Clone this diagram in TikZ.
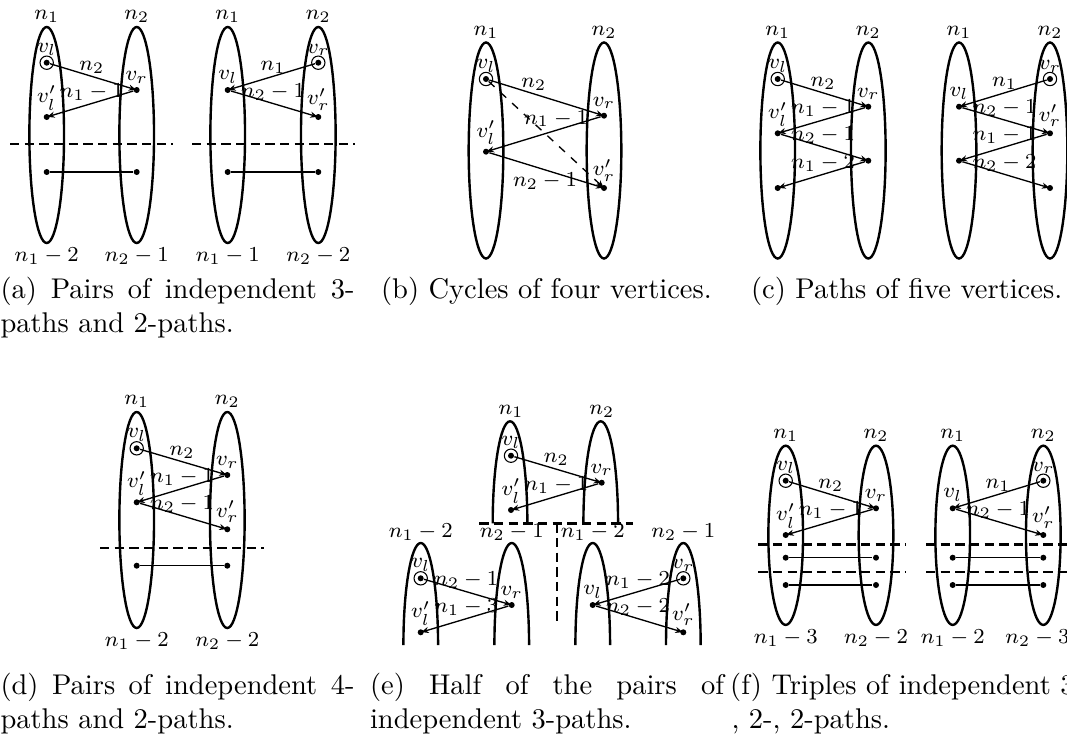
\documentclass[tikz,border=0pt]{standalone}
\usetikzlibrary{shapes.geometric,arrows.meta}

\begin{document}
\begin{tikzpicture}[x=0.375pt, y=-0.375pt,
    part/.style={draw, ellipse, line width=0.9pt, inner sep=0pt, minimum width=13pt, minimum height=81pt},
    shortpart/.style={part, minimum height=67.2pt},
    lbl/.style={font=\footnotesize, inner sep=1pt},
    vtx/.style={circle, fill, inner sep=0pt, minimum size=2.25pt},
    walk/.style={-{Stealth[length=2.8pt, width=2.3pt]}, line width=0.5pt, shorten >=-1.1pt},
    pathtwo/.style={line width=0.5pt},
    sepline/.style={line width=0.9pt, dash pattern=on 3.5pt off 2pt},
    captext/.style={inner sep=0pt, font=\fontsize{10.69}{12.8}\selectfont}]
\useasboundingbox (0,0) rectangle (1067,736);

% (a) pairs of independent 3-paths and 2-paths
\node[part, label={[lbl]above:$n_1$}, label={[lbl]below:$n_1-2$}] (a1) at (46.7,135) {};
\node[part, label={[lbl]above:$n_2$}, label={[lbl]below:$n_2-1$}] (a2) at (136.7,135) {};
\node[vtx, label={[lbl]above:$v_l$}] (a1vl) at (46.7,62.7) {};
\node[vtx, label={[lbl]above:$v_r$}] (a1vr) at (136.7,90) {};
\node[vtx, label={[lbl]above:$v_l'$}] (a1vlp) at (46.7,117) {};
\node[vtx] (a1x) at (46.7,172) {};
\node[vtx] (a1y) at (136.7,172) {};
\draw (a1vl) circle (2.5pt);
\draw[walk] (a1vl) -- (a1vr) node[lbl, midway, above] (a1e1) {$n_2$};
\draw[walk] (a1vr) -- (a1vlp) node[lbl, midway, above] (a1e2) {$n_1-1$};
\draw[pathtwo] (a1x) -- (a1y);
\draw[sepline] (10,144) -- (173,144);

\node[part, label={[lbl]above:$n_1$}, label={[lbl]below:$n_1-1$}] (a3) at (227.7,135) {};
\node[part, label={[lbl]above:$n_2$}, label={[lbl]below:$n_2-2$}] (a4) at (318.3,135) {};
\node[vtx, label={[lbl]above:$v_r$}] (a2vr) at (318.3,62.7) {};
\node[vtx, label={[lbl]above:$v_l$}] (a2vl) at (227.7,90) {};
\node[vtx, label={[lbl]above:$v_r'$}] (a2vrp) at (318.3,117) {};
\node[vtx] (a2x) at (227.7,172) {};
\node[vtx] (a2y) at (318.3,172) {};
\draw (a2vr) circle (2.5pt);
\draw[walk] (a2vr) -- (a2vl) node[lbl, midway, above] (a2e1) {$n_1$};
\draw[walk] (a2vl) -- (a2vrp) node[lbl, midway, above] (a2e2) {$n_2-1$};
\draw[pathtwo] (a2x) -- (a2y);
\draw[sepline] (192,144) -- (355,144);

% (b) cycles of four vertices
\node[part, label={[lbl]above:$n_1$}] (b1) at (486,150.5) {};
\node[part, label={[lbl]above:$n_2$}] (b2) at (604,150.5) {};
\node[vtx, label={[lbl]above:$v_l$}] (bvl) at (486,79) {};
\node[vtx, label={[lbl]above:$v_r$}] (bvr) at (604,115.7) {};
\node[vtx, label={[lbl]above:$v_l'$}] (bvlp) at (486,151.7) {};
\node[vtx, label={[lbl]above:$v_r'$}] (bvrp) at (604,188) {};
\draw (bvl) circle (2.5pt);
\draw[walk] (bvl) -- (bvr) node[lbl, pos=0.4, above] (be1) {$n_2$};
\draw[walk] (bvr) -- (bvlp) node[lbl, pos=0.4, above] (be2) {$n_1-1$};
\draw[walk] (bvlp) -- (bvrp) node[lbl, midway, below] (be3) {$n_2-1$};
\draw[walk, dashed] (bvl) -- (bvrp);

% (c) paths of five vertices
\node[part, label={[lbl]above:$n_1$}] (c1) at (777.7,150.5) {};
\node[part, label={[lbl]above:$n_2$}] (c2) at (868.3,150.5) {};
\node[vtx, label={[lbl]above:$v_l$}] (c1vl) at (777.7,79) {};
\node[vtx, label={[lbl]above:$v_r$}] (c1vr) at (868.3,106.7) {};
\node[vtx, label={[lbl]above:$v_l'$}] (c1vlp) at (777.7,133.3) {};
\node[vtx] (c1p) at (868.3,160.7) {};
\node[vtx] (c1q) at (777.7,188) {};
\draw (c1vl) circle (2.5pt);
\draw[walk] (c1vl) -- (c1vr) node[lbl, midway, above] (c1e1) {$n_2$};
\draw[walk] (c1vr) -- (c1vlp) node[lbl, midway, above] (c1e2) {$n_1-1$};
\draw[walk] (c1vlp) -- (c1p) node[lbl, midway, above] (c1e3) {$n_2-1$};
\draw[walk] (c1p) -- (c1q) node[lbl, midway, above] (c1e4) {$n_1-2$};

\node[part, label={[lbl]above:$n_1$}] (c3) at (959,150.5) {};
\node[part, label={[lbl]above:$n_2$}] (c4) at (1050,150.5) {};
\node[vtx, label={[lbl]above:$v_r$}] (c2vr) at (1050,79) {};
\node[vtx, label={[lbl]above:$v_l$}] (c2vl) at (959,106.7) {};
\node[vtx, label={[lbl]above:$v_r'$}] (c2vrp) at (1050,133.3) {};
\node[vtx] (c2p) at (959,160.7) {};
\node[vtx] (c2q) at (1050,188) {};
\draw (c2vr) circle (2.5pt);
\draw[walk] (c2vr) -- (c2vl) node[lbl, midway, above] (c2e1) {$n_1$};
\draw[walk] (c2vl) -- (c2vrp) node[lbl, midway, above] (c2e2) {$n_2-1$};
\draw[walk] (c2vrp) -- (c2p) node[lbl, midway, above] (c2e3) {$n_1-1$};
\draw[walk] (c2p) -- (c2q) node[lbl, midway, above] (c2e4) {$n_2-2$};

% (d) pairs of independent 4-paths and 2-paths
\node[part, label={[lbl]above:$n_1$}, label={[lbl]below:$n_1-2$}] (d1) at (136.7,520) {};
\node[part, label={[lbl]above:$n_2$}, label={[lbl]below:$n_2-2$}] (d2) at (227.3,520) {};
\node[vtx, label={[lbl]above:$v_l$}] (dvl) at (136.7,448.3) {};
\node[vtx, label={[lbl]above:$v_r$}] (dvr) at (227.3,475) {};
\node[vtx, label={[lbl]above:$v_l'$}] (dvlp) at (136.7,502.3) {};
\node[vtx, label={[lbl]above:$v_r'$}] (dvrp) at (227.3,529.3) {};
\node[vtx] (dx) at (136.7,565.7) {};
\node[vtx] (dy) at (227.3,565.7) {};
\draw (dvl) circle (2.5pt);
\draw[walk] (dvl) -- (dvr) node[lbl, midway, above] (de1) {$n_2$};
\draw[walk] (dvr) -- (dvlp) node[lbl, midway, above] (de2) {$n_1-1$};
\draw[walk] (dvlp) -- (dvrp) node[lbl, midway, above] (de3) {$n_2-1$};
\draw[pathtwo] (dx) -- (dy);
\draw[sepline] (100,547.7) -- (264,547.7);

% (e) half of the pairs of independent 3-paths
\draw[line width=0.9pt] (492.7,523.3) arc[start angle=180, end angle=0, x radius=6.5pt, y radius=38.25pt];
\draw[line width=0.9pt] (583.4,523.3) arc[start angle=180, end angle=0, x radius=6.5pt, y radius=38.25pt];
\node[lbl, above] (e1) at (511,421) {$n_1$};
\node[lbl, above] (e2) at (601.7,421) {$n_2$};
\node[vtx, label={[lbl]above:$v_l$}] (e1vl) at (511,455.7) {};
\node[vtx, label={[lbl]above:$v_r$}] (e1vr) at (601.7,482.7) {};
\node[vtx, label={[lbl]above:$v_l'$}] (e1vlp) at (511,510) {};
\draw (e1vl) circle (2.5pt);
\draw[walk] (e1vl) -- (e1vr) node[lbl, midway, above] (e1e1) {$n_2$};
\draw[walk] (e1vr) -- (e1vlp) node[lbl, midway, above] (e1e2) {$n_1-1$};

\draw[line width=0.9pt] (403.4,645) arc[start angle=180, end angle=0, x radius=6.5pt, y radius=38.25pt];
\draw[line width=0.9pt] (494.4,645) arc[start angle=180, end angle=0, x radius=6.5pt, y radius=38.25pt];
\node[lbl, above] (e3) at (420.7,543.3) {$n_1-2$};
\node[lbl, above] (e4) at (511.7,543.3) {$n_2-1$};
\node[vtx, label={[lbl]above:$v_l$}] (e2vl) at (420.7,578.3) {};
\node[vtx, label={[lbl]above:$v_r$}] (e2vr) at (511.7,605) {};
\node[vtx, label={[lbl]above:$v_l'$}] (e2vlp) at (420.7,632.3) {};
\draw (e2vl) circle (2.5pt);
\draw[walk] (e2vl) -- (e2vr) node[lbl, midway, above] (e2e1) {$n_2-1$};
\draw[walk] (e2vr) -- (e2vlp) node[lbl, midway, above] (e2e2) {$n_1-3$};

\draw[line width=0.9pt] (575.4,645) arc[start angle=180, end angle=0, x radius=6.5pt, y radius=38.25pt];
\draw[line width=0.9pt] (666,645) arc[start angle=180, end angle=0, x radius=6.5pt, y radius=38.25pt];
\node[lbl, above] (e5) at (592.7,543.3) {$n_1-2$};
\node[lbl, above] (e6) at (683.3,543.3) {$n_2-1$};
\node[vtx, label={[lbl]above:$v_r$}] (e3vr) at (683.3,578.3) {};
\node[vtx, label={[lbl]above:$v_l$}] (e3vl) at (592.7,605) {};
\node[vtx, label={[lbl]above:$v_r'$}] (e3vrp) at (683.3,632.3) {};
\draw (e3vr) circle (2.5pt);
\draw[walk] (e3vr) -- (e3vl) node[lbl, midway, above] (e3e1) {$n_1-2$};
\draw[walk] (e3vl) -- (e3vrp) node[lbl, midway, above] (e3e2) {$n_2-2$};

\draw[sepline] (479.3,523.3) -- (633.3,523.3);
\draw[sepline] (556.7,523.3) -- (556.7,623.3);

% (f) triples of independent 3-, 2-, 2-paths
\node[shortpart, label={[lbl]above:$n_1$}, label={[lbl]below:$n_1-3$}] (f1) at (785.7,535.3) {};
\node[shortpart, label={[lbl]above:$n_2$}, label={[lbl]below:$n_2-2$}] (f2) at (876,535.3) {};
\node[vtx, label={[lbl]above:$v_l$}] (f1vl) at (785.7,480.7) {};
\node[vtx, label={[lbl]above:$v_r$}] (f1vr) at (876,508.3) {};
\node[vtx, label={[lbl]above:$v_l'$}] (f1vlp) at (785.7,535) {};
\node[vtx] (f1x) at (785.7,557.7) {};
\node[vtx] (f1y) at (876,557.7) {};
\node[vtx] (f1u) at (785.7,585) {};
\node[vtx] (f1w) at (876,585) {};
\draw (f1vl) circle (2.5pt);
\draw[walk] (f1vl) -- (f1vr) node[lbl, midway, above] (f1e1) {$n_2$};
\draw[walk] (f1vr) -- (f1vlp) node[lbl, midway, above] (f1e2) {$n_1-1$};
\draw[pathtwo] (f1x) -- (f1y);
\draw[pathtwo] (f1u) -- (f1w);
\draw[sepline] (758.3,544.3) -- (905.7,544.3);
\draw[sepline] (758.3,571.7) -- (905.7,571.7);

\node[shortpart, label={[lbl]above:$n_1$}, label={[lbl]below:$n_1-2$}] (f3) at (952.7,535.3) {};
\node[shortpart, label={[lbl]above:$n_2$}, label={[lbl, xshift=-2.2pt]below:$n_2-3$}] (f4) at (1043.3,535.3) {};
\node[vtx, label={[lbl]above:$v_r$}] (f2vr) at (1043.3,480.7) {};
\node[vtx, label={[lbl]above:$v_l$}] (f2vl) at (952.7,508.3) {};
\node[vtx, label={[lbl]above:$v_r'$}] (f2vrp) at (1043.3,535) {};
\node[vtx] (f2x) at (952.7,557.7) {};
\node[vtx] (f2y) at (1043.3,557.7) {};
\node[vtx] (f2u) at (952.7,585) {};
\node[vtx] (f2w) at (1043.3,585) {};
\draw (f2vr) circle (2.5pt);
\draw[walk] (f2vr) -- (f2vl) node[lbl, midway, above] (f2e1) {$n_1$};
\draw[walk] (f2vl) -- (f2vrp) node[lbl, midway, above] (f2e2) {$n_2-1$};
\draw[pathtwo] (f2x) -- (f2y);
\draw[pathtwo] (f2u) -- (f2w);
\draw[sepline] (926,544.3) -- (1090,544.3);
\draw[sepline] (926,571.7) -- (1090,571.7);

% captions
\node[captext, anchor=base west] (capa) at (0,298) {\makebox[132.75pt][s]{(a) Pairs of independent 3-}};
\node[captext, anchor=base west] (capa2) at (0,332) {paths and 2-paths.};
\node[captext, anchor=base] (capb) at (546.4,298) {(b) Cycles of four vertices.};
\node[captext, anchor=base] (capc) at (906.6,298) {(c) Paths of five vertices.};
\node[captext, anchor=base west] (capd) at (0,694) {\makebox[132.75pt][s]{(d) Pairs of independent 4-}};
\node[captext, anchor=base west] (capd2) at (0,728) {paths and 2-paths.};
\node[captext, anchor=base west] (cape) at (369.5,694) {\makebox[132.75pt][s]{(e) Half of the pairs of}};
\node[captext, anchor=base west] (cape2) at (369.5,728) {independent 3-paths.};
\node[captext, anchor=base west] (capf) at (729.7,694) {\makebox[132.75pt][s]{(f) Triples of independent 3-}};
\node[captext, anchor=base west] (capf2) at (731,728) {, 2-, 2-paths.};
\end{tikzpicture}
\end{document}
